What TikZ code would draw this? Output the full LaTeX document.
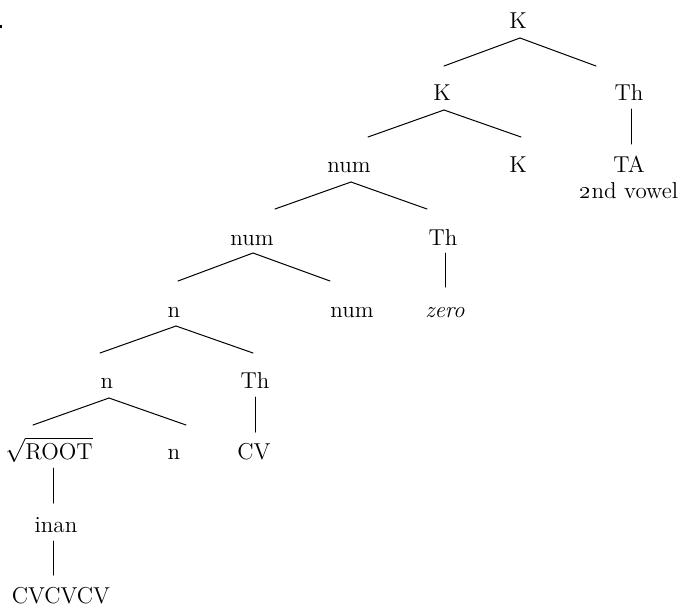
\documentclass[tikz,border=0pt]{standalone}
\begin{document}
\begin{tikzpicture}[x=0.5pt,y=-0.5pt,
  lbl/.style={anchor=base,inner sep=0pt,font=\fontsize{11.5}{13.5}\selectfont},
  branch/.style={line width=0.5pt,line cap=round}]
\useasboundingbox (0,0) rectangle (684,605);
\fill (0,25) rectangle (2,28);
% nodes
\node[lbl] (K0) at (518,28) {K};
\node[lbl] (K1) at (442,100) {K};
\node[lbl] (Th1) at (629,100) {Th};
\node[lbl] (num2) at (349,172) {num};
\node[lbl] (K2) at (518,172) {K};
\node[lbl] (TA) at (629,172) {TA};
\node[lbl] (vow) at (629,198) {\oldstylenums{2}nd vowel};
\node[lbl] (num3) at (252,245) {num};
\node[lbl] (Th3) at (443,245) {Th};
\node[lbl] (n4) at (174,317) {n};
\node[lbl] (num4) at (352,317) {num};
\node[lbl] (zero) at (445,317) {\itshape zero};
\node[lbl] (n5) at (107,388) {n};
\node[lbl] (Th5) at (255,388) {Th};
\node[lbl] (root) at (49,459) {$\sqrt{\mbox{ROOT}}$};
\node[lbl] (n6) at (174,459) {n};
\node[lbl] (CV) at (254,459) {CV};
\node[lbl] (inan) at (56,532) {inan};
\node[lbl] (cvs) at (61,603) {CVCVCV};
% coordinates for branch ends
\coordinate (a0) at (520,38);  \coordinate (a0l) at (444,66);  \coordinate (a0r) at (596,66);
\coordinate (a1) at (444,110); \coordinate (a1l) at (368,137); \coordinate (a1r) at (521,137);
\coordinate (a2) at (351,182); \coordinate (a2l) at (275,209); \coordinate (a2r) at (427,209);
\coordinate (a3) at (253,253); \coordinate (a3l) at (178,281); \coordinate (a3r) at (330,281);
\coordinate (a4) at (176,326); \coordinate (a4l) at (100,353); \coordinate (a4r) at (253,353);
\coordinate (a5) at (109,398); \coordinate (a5l) at (33,425);  \coordinate (a5r) at (186,425);
\coordinate (v1t) at (631,109); \coordinate (v1b) at (631,144);
\coordinate (v3t) at (445,253); \coordinate (v3b) at (445,287);
\coordinate (v5t) at (255,397); \coordinate (v5b) at (255,432);
\coordinate (v6t) at (53,468);  \coordinate (v6b) at (53,503);
\coordinate (v7t) at (53,541);  \coordinate (v7b) at (53,575);
% branches
\draw[branch] (a0l) -- (a0) -- (a0r);
\draw[branch] (a1l) -- (a1) -- (a1r);
\draw[branch] (a2l) -- (a2) -- (a2r);
\draw[branch] (a3l) -- (a3) -- (a3r);
\draw[branch] (a4l) -- (a4) -- (a4r);
\draw[branch] (a5l) -- (a5) -- (a5r);
\draw[branch] (v1t) -- (v1b);
\draw[branch] (v3t) -- (v3b);
\draw[branch] (v5t) -- (v5b);
\draw[branch] (v6t) -- (v6b);
\draw[branch] (v7t) -- (v7b);
\end{tikzpicture}
\end{document}
